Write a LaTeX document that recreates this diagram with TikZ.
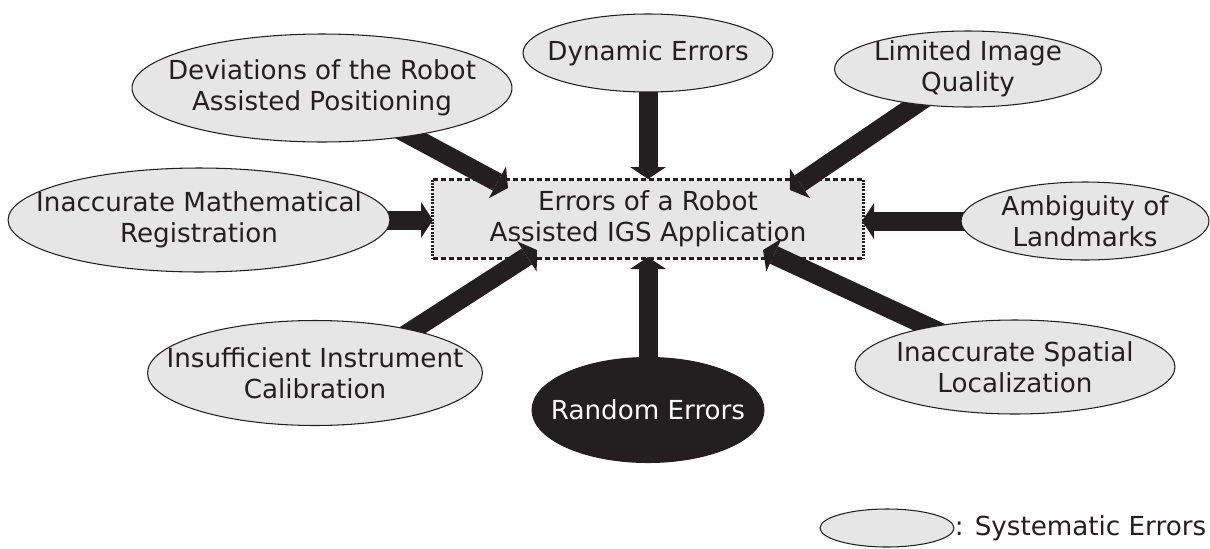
\documentclass[tikz,border=0pt]{standalone}
\usepackage{fontspec}
\setmainfont{DejaVu Sans}
\usetikzlibrary{shapes.geometric,arrows.meta,backgrounds,positioning}

\definecolor{ink}{RGB}{35,31,32}
\definecolor{pale}{RGB}{230,230,230}

\tikzset{
  cause/.style={ellipse, draw=ink, line width=0.6pt, fill=pale, inner sep=0pt},
  ctrbox/.style={rectangle, fill=pale, text=ink, align=center, inner sep=0pt,
    minimum width=8.6cm, minimum height=1.56cm},
  feed/.style={ink, line width=0.38cm,
    -{Triangle[length=0.24cm 0, width=0.72cm 0, line width=0pt]}},
}

\begin{document}
\begin{tikzpicture}[x=0.02cm, y=-0.02cm, font=\fontsize{14.9pt}{17.6pt}\selectfont]
        \useasboundingbox (0,0) rectangle (1210,548);
        %
        \node[cause, minimum width=5.0cm, minimum height=1.56cm,
          label={[text=ink]center:Dynamic Errors}] (dyn) at (648,53) {};
        \node[cause, minimum width=7.6cm, minimum height=2.16cm,
          label={[text=ink, align=center]center:Deviations of the Robot\\Assisted Positioning}] (dev) at (322,88) {};
        \node[cause, minimum width=5.34cm, minimum height=1.52cm,
          label={[text=ink, align=center]center:Limited Image\\Quality}] (lim) at (968,69) {};
        \node[cause, minimum width=7.64cm, minimum height=2.08cm,
          label={[text=ink, align=center]center:Inaccurate Mathematical\\Registration}] (mat) at (199,220) {};
        \node[cause, minimum width=4.96cm, minimum height=1.56cm,
          label={[text=ink, align=center]center:Ambiguity of\\Landmarks}] (amb) at (1085,221) {};
        \node[cause, minimum width=6.7cm, minimum height=2.1cm,
          label={[text=ink, align=center]center:Insufficient Instrument\\Calibration}] (ins) at (315,373) {};
        \node[cause, fill=ink, minimum width=4.64cm, minimum height=2.1cm,
          label={[text=white]center:Random Errors}] (rnd) at (648,410) {};
        \node[cause, minimum width=6.4cm, minimum height=1.88cm,
          label={[text=ink, align=center]center:Inaccurate Spatial\\Localization}] (spa) at (1015,367) {};
        %
        \begin{scope}[on background layer]
        \node[ctrbox] (ctr) at (648,219) {Errors of a Robot\\Assisted IGS Application};
        \draw[ink, line width=0.055cm, dash pattern=on 0.1cm off 0.06cm]
          (ctr.north west) -- (ctr.north east) (ctr.south west) -- (ctr.south east);
        \draw[ink, line width=0.07cm, dash pattern=on 0.04cm off 0.025cm]
          (ctr.north west) -- (ctr.south west) (ctr.north east) -- (ctr.south east);
        %
        \coordinate (tdyn) at (648,179);
        \coordinate (tdev) at (508,188);
        \coordinate (tlim) at (790,190);
        \coordinate (tmat) at (433,220);
        \coordinate (tamb) at (862,221);
        \coordinate (tins) at (537,250);
        \coordinate (trnd) at (648,257);
        \coordinate (tspa) at (763,250);
        %
        \draw[feed] (dyn.center) -- (tdyn);
        \draw[feed] (dev.center) -- (tdev);
        \draw[feed] (lim.center) -- (tlim);
        \draw[feed] (mat.center) -- (tmat);
        \draw[feed] (amb.center) -- (tamb);
        \draw[feed] ([yshift=-0.4cm]ins.center) -- (tins);
        \draw[feed] (rnd.center) -- (trnd);
        \draw[feed] (spa.center) -- (tspa);
        \end{scope}
        %
        \node[cause, minimum width=2.68cm, minimum height=0.76cm] (leg) at (887,528) {};
        \node[right=0pt of leg, inner sep=0pt, text=ink] (legtxt) {: Systematic Errors};
    \end{tikzpicture}
\end{document}
